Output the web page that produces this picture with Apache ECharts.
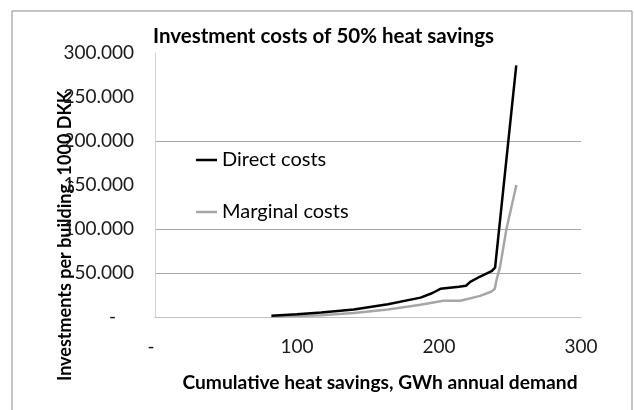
<!DOCTYPE html>
<html>
<head>
<meta charset="utf-8">
<script src="https://cdn.jsdelivr.net/npm/echarts@6/dist/echarts.min.js"></script>
<style>
  html, body { margin: 0; padding: 0; background: #fff; }
  #chart { width: 634px; height: 410px; }
</style>
</head>
<body>
<div id="chart"></div>
<script>
// x: cumulative heat savings (GWh), y: investment per building (1000 DKK)
const directX = [82, 100, 117, 140, 164, 187, 195, 201, 214, 219, 222, 229, 237, 239.5, 254.4];
const directY = [1500, 3000, 5000, 8500, 14500, 22000, 27000, 32000, 34500, 35500, 40000, 46000, 52000, 56000, 286000];
const marginalX = [82, 100, 117, 140, 164, 187, 203, 215, 229, 237, 239.3, 240.5, 243, 247.5, 254.5];
const marginalY = [500, 1000, 2000, 4500, 8500, 14000, 18500, 18500, 24000, 29000, 32000, 42000, 57000, 100000, 150000];
const xTicks = [0, 100, 200, 300];
const yTicks = [0, 50000, 100000, 150000, 200000, 250000, 300000];

const font = 'Lato, "Noto Sans", sans-serif';
const pairs = (xs, ys) => xs.map((x, i) => [x, ys[i]]);
const fmtK = v => v === 0 ? '{d|-}' : (v / 1000).toFixed(3);

let chart = echarts.init(document.getElementById('chart'));
chart.setOption({
    animation: false,
    backgroundColor: '#fff',
    textStyle: { fontFamily: font },
    title: {
        text: 'Investment costs of 50% heat savings',
        left: 148, top: 21,
        textStyle: { fontFamily: font, fontSize: 20.5, fontWeight: 'bold', color: '#000' }
    },
    grid: { left: 155, right: 53, top: 53, bottom: 93 },
    legend: {
        orient: 'vertical',
        left: 191, top: 143,
        icon: 'rect',
        itemWidth: 21, itemHeight: 2.5,
        itemGap: 28,
        textStyle: { fontFamily: font, fontSize: 20, color: '#000', lineHeight: 24 },
        data: ['Direct costs', 'Marginal costs']
    },
    xAxis: {
        type: 'value',
        min: xTicks[0], max: xTicks[xTicks.length - 1], interval: 100,
        axisLine: { lineStyle: { color: '#bfbfbf', width: 1.2 } },
        axisTick: { show: false },
        splitLine: { show: false },
        axisLabel: {
            margin: 20, fontSize: 19, color: '#1a1a1a', fontFamily: font,
            formatter: v => v === 0 ? '{d|-}' : String(v),
            rich: { d: { fontSize: 19, color: '#1a1a1a', padding: [0, 8, 0, 0] } }
        }
    },
    yAxis: {
        type: 'value',
        min: yTicks[0], max: yTicks[yTicks.length - 1], interval: 50000,
        axisLine: { show: true, lineStyle: { color: '#d0d0d0', width: 1 } },
        axisTick: { show: false },
        splitLine: {
            show: true,
            // the reference only shows gridlines at 50, 100 and 200
            lineStyle: { color: ['transparent', '#a6a6a6', '#a6a6a6', 'transparent', '#a6a6a6', 'transparent', 'transparent'], width: 1.2 }
        },
        axisLabel: {
            margin: 21, fontSize: 19, color: '#1a1a1a', fontFamily: font,
            formatter: fmtK,
            rich: { d: { fontSize: 19, color: '#1a1a1a', padding: [0, 18, 0, 0] } }
        }
    },
    graphic: [
        {
            type: 'rect', silent: true, z: -1,
            shape: { x: 12, y: 11, width: 620, height: 420 },
            style: { fill: 'none', stroke: '#8c8c8c', lineWidth: 1 }
        },
        {
            type: 'text', x: 65, y: 236, rotation: Math.PI / 2,
            style: {
                text: 'Investments per building, 1000 DKK',
                fontFamily: font, fontSize: 18, fontWeight: 'bold', fill: '#000',
                align: 'center', verticalAlign: 'middle'
            }
        },
        {
            type: 'text', x: 380, y: 383,
            style: {
                text: 'Cumulative heat savings, GWh annual demand',
                fontFamily: font, fontSize: 19.2, fontWeight: 'bold', fill: '#000',
                align: 'center', verticalAlign: 'middle'
            }
        }
    ],
    series: [
        {
            name: 'Marginal costs', type: 'line', showSymbol: false,
            lineStyle: { color: '#a6a6a6', width: 2.5 }, itemStyle: { color: '#a6a6a6' },
            data: pairs(marginalX, marginalY)
        },
        {
            name: 'Direct costs', type: 'line', showSymbol: false,
            lineStyle: { color: '#000', width: 2.5 }, itemStyle: { color: '#000' },
            data: pairs(directX, directY)
        }
    ]
});
</script>
</body>
</html>
